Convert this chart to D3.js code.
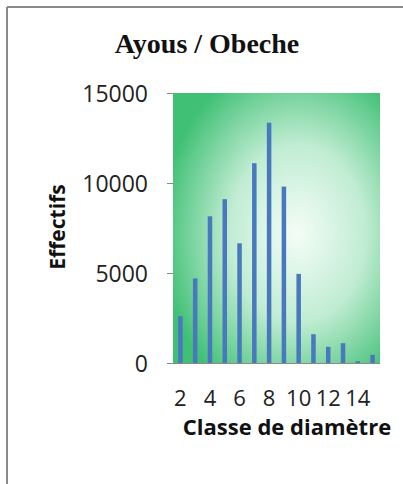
<!DOCTYPE html>
<meta charset="utf-8">
<style>
body { margin: 0; background: #fff; }
.tick text { font-family: "Open Sans", sans-serif; fill: #222; }
</style>
<body>
<script src="https://d3js.org/d3.v7.min.js"></script>
<script>

// diameter classes and counts
var classes = [2, 3, 4, 5, 6, 7, 8, 9, 10, 11, 12, 13, 14, 15];
var counts = [2600, 4700, 8150, 9100, 6650, 11100, 13350, 9800, 4950, 1600, 900, 1100, 100, 450];
var yTicks = [0, 5000, 10000, 15000];
var xLabels = [2, 4, 6, 8, 10, 12, 14];

var width = 403, height = 484;
var plotL = 173, plotR = 380, plotT = 93, plotB = 363;

var svg = d3.select("body").append("svg")
    .attr("width", width)
    .attr("height", height);

// frame (only left and top edges visible)
svg.append("line").attr("x1", 7).attr("x2", width).attr("y1", 7).attr("y2", 7)
    .attr("stroke", "#8a8a8a").attr("stroke-width", 2);
svg.append("line").attr("x1", 7).attr("x2", 7).attr("y1", 7).attr("y2", height)
    .attr("stroke", "#8a8a8a").attr("stroke-width", 2);

var grad = svg.append("defs").append("radialGradient")
    .attr("id", "bg")
    .attr("cx", "60%").attr("cy", "52%").attr("r", "66%");
grad.append("stop").attr("offset", "0%").attr("stop-color", "#f4fdf7");
grad.append("stop").attr("offset", "50%").attr("stop-color", "#c0ecd2");
grad.append("stop").attr("offset", "100%").attr("stop-color", "#40c075");

var x = d3.scaleBand()
    .domain(classes)
    .range([plotL, plotR]);

var y = d3.scaleLinear()
    .domain([0, 15000])
    .range([plotB, plotT]);

svg.append("rect")
    .attr("x", plotL).attr("y", plotT)
    .attr("width", plotR - plotL).attr("height", plotB - plotT)
    .attr("fill", "url(#bg)");

var barW = 4.5;
svg.append("g").selectAll("rect")
    .data(counts)
    .enter().append("rect")
      .attr("x", function(d, i) { return x(classes[i]) + x.bandwidth() / 2 - barW / 2; })
      .attr("y", function(d) { return y(d); })
      .attr("width", barW)
      .attr("height", function(d) { return plotB - y(d); })
      .attr("fill", "#4878bd");

var yAxis = svg.append("g")
    .attr("transform", "translate(" + plotL + ",0)")
    .call(d3.axisLeft(y).tickValues(yTicks).tickFormat(d3.format("d")).tickSize(6).tickPadding(19));
yAxis.select(".domain").remove();
yAxis.selectAll("line").attr("stroke", "#8a8a8a");
yAxis.selectAll("text").attr("font-size", "23px").attr("dy", "0.36em");

var xAxis = svg.append("g")
    .attr("transform", "translate(0," + plotB + ")")
    .call(d3.axisBottom(x).tickValues(xLabels).tickSize(0).tickPadding(35));
xAxis.select(".domain").remove();
xAxis.selectAll("text").attr("font-size", "22px").attr("dy", "0.35em");
svg.append("line")
    .attr("x1", plotL - 6).attr("x2", plotR)
    .attr("y1", plotB + 0.5).attr("y2", plotB + 0.5)
    .attr("stroke", "#8a8a8a");

svg.append("text")
    .attr("x", 207).attr("y", 53)
    .attr("text-anchor", "middle")
    .attr("font-family", "Liberation Serif, serif")
    .attr("font-weight", "bold")
    .attr("font-size", "28px")
    .attr("fill", "#111")
    .text("Ayous / Obeche");

svg.append("text")
    .attr("transform", "translate(65,227) rotate(-90)")
    .attr("text-anchor", "middle")
    .attr("font-family", "Open Sans, sans-serif")
    .attr("font-weight", "bold")
    .attr("font-size", "21px")
    .attr("fill", "#111")
    .text("Effectifs");

svg.append("text")
    .attr("x", 287).attr("y", 435)
    .attr("text-anchor", "middle")
    .attr("font-family", "Open Sans, sans-serif")
    .attr("font-weight", "bold")
    .attr("font-size", "22px")
    .attr("fill", "#111")
    .text("Classe de diamètre");

</script>
</body>
